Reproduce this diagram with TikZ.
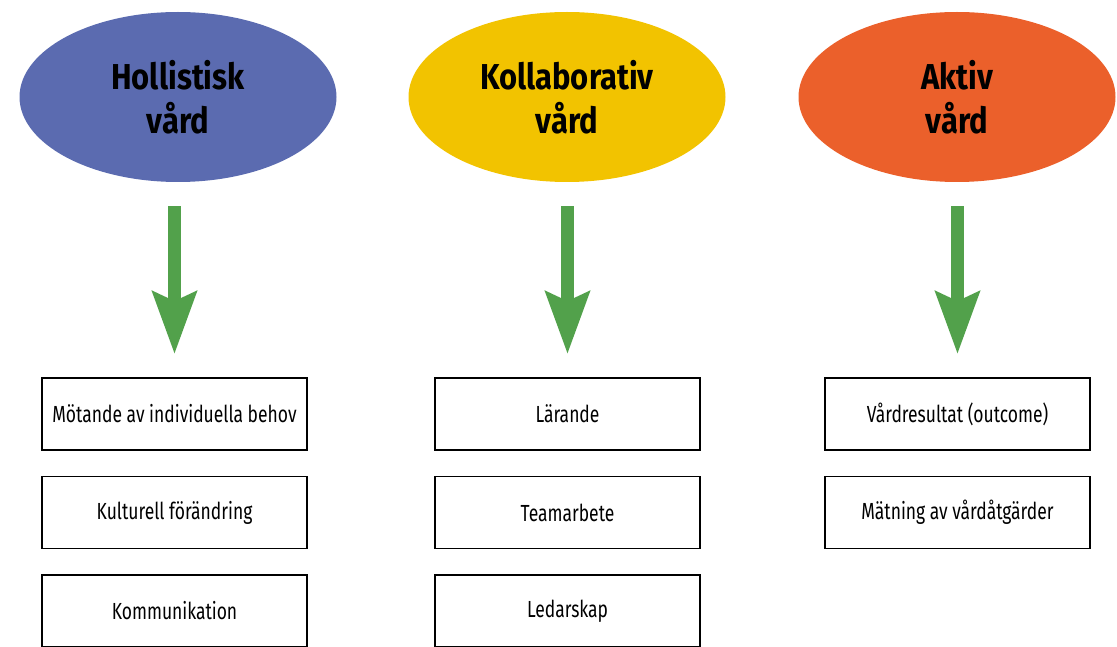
\documentclass[tikz,border=0pt]{standalone}
\usepackage{fontspec}
\setmainfont{Fira Sans}[FakeStretch=0.75]
\newfontfamily\headfont{Fira Sans}[FakeStretch=0.86]
\usepackage{tikz}
\usetikzlibrary{shapes.geometric,arrows.meta,positioning}

\definecolor{holblue}{HTML}{5B6BB0}
\definecolor{colyellow}{HTML}{F2C300}
\definecolor{aktorange}{HTML}{EB602B}
\definecolor{arrowgreen}{HTML}{52A14B}

\begin{document}
\begin{tikzpicture}[x=1pt,y=1pt]
 \tikzstyle{care} = [ellipse,minimum width=317pt,minimum height=170pt,inner sep=0pt,align=center,font=\headfont\bfseries\fontsize{36}{44}\selectfont];
 \tikzstyle{item} = [rectangle,draw=black,line width=1.5pt,minimum width=265pt,minimum height=72pt,inner sep=0pt,node distance=98.5pt,font=\fontsize{23.3}{28}\selectfont];
 \tikzstyle{bigarrow} = [draw=arrowgreen,line width=13pt,-{Stealth[length=62pt,width=43pt,inset=9pt]},shorten <=24pt,shorten >=23pt];

 \path[use as bounding box,clip] (0,0) rectangle (1117,-647);

 %% hollistisk
 \node[care,fill=holblue,name=care0] at (178,-97) {Hollistisk\\vård};
 \node[item,name=item00] at (174.5,-414) {Mötande av individuella behov};
 \node[item,name=item01,below of=item00] {Kulturell förändring};
 \node[item,name=item02,below of=item01] {Kommunikation};

 %% kollaborativ
 \node[care,fill=colyellow,name=care1] at (567,-97) {Kollaborativ\\vård};
 \node[item,name=item10] at (567.5,-414) {Lärande};
 \node[item,name=item11,below of=item10] {Teamarbete};
 \node[item,name=item12,below of=item11] {Ledarskap};

 %% aktiv
 \node[care,fill=aktorange,name=care2] at (957,-97) {Aktiv\\vård};
 \node[item,name=item20] at (957.5,-414) {Vårdresultat (outcome)};
 \node[item,name=item21,below of=item20] {Mätning av vårdåtgärder};

 \path (care0.south -| item00.north) edge [bigarrow] (item00.north);
 \path (care1.south -| item10.north) edge [bigarrow] (item10.north);
 \path (care2.south -| item20.north) edge [bigarrow] (item20.north);

\end{tikzpicture}
\end{document}
